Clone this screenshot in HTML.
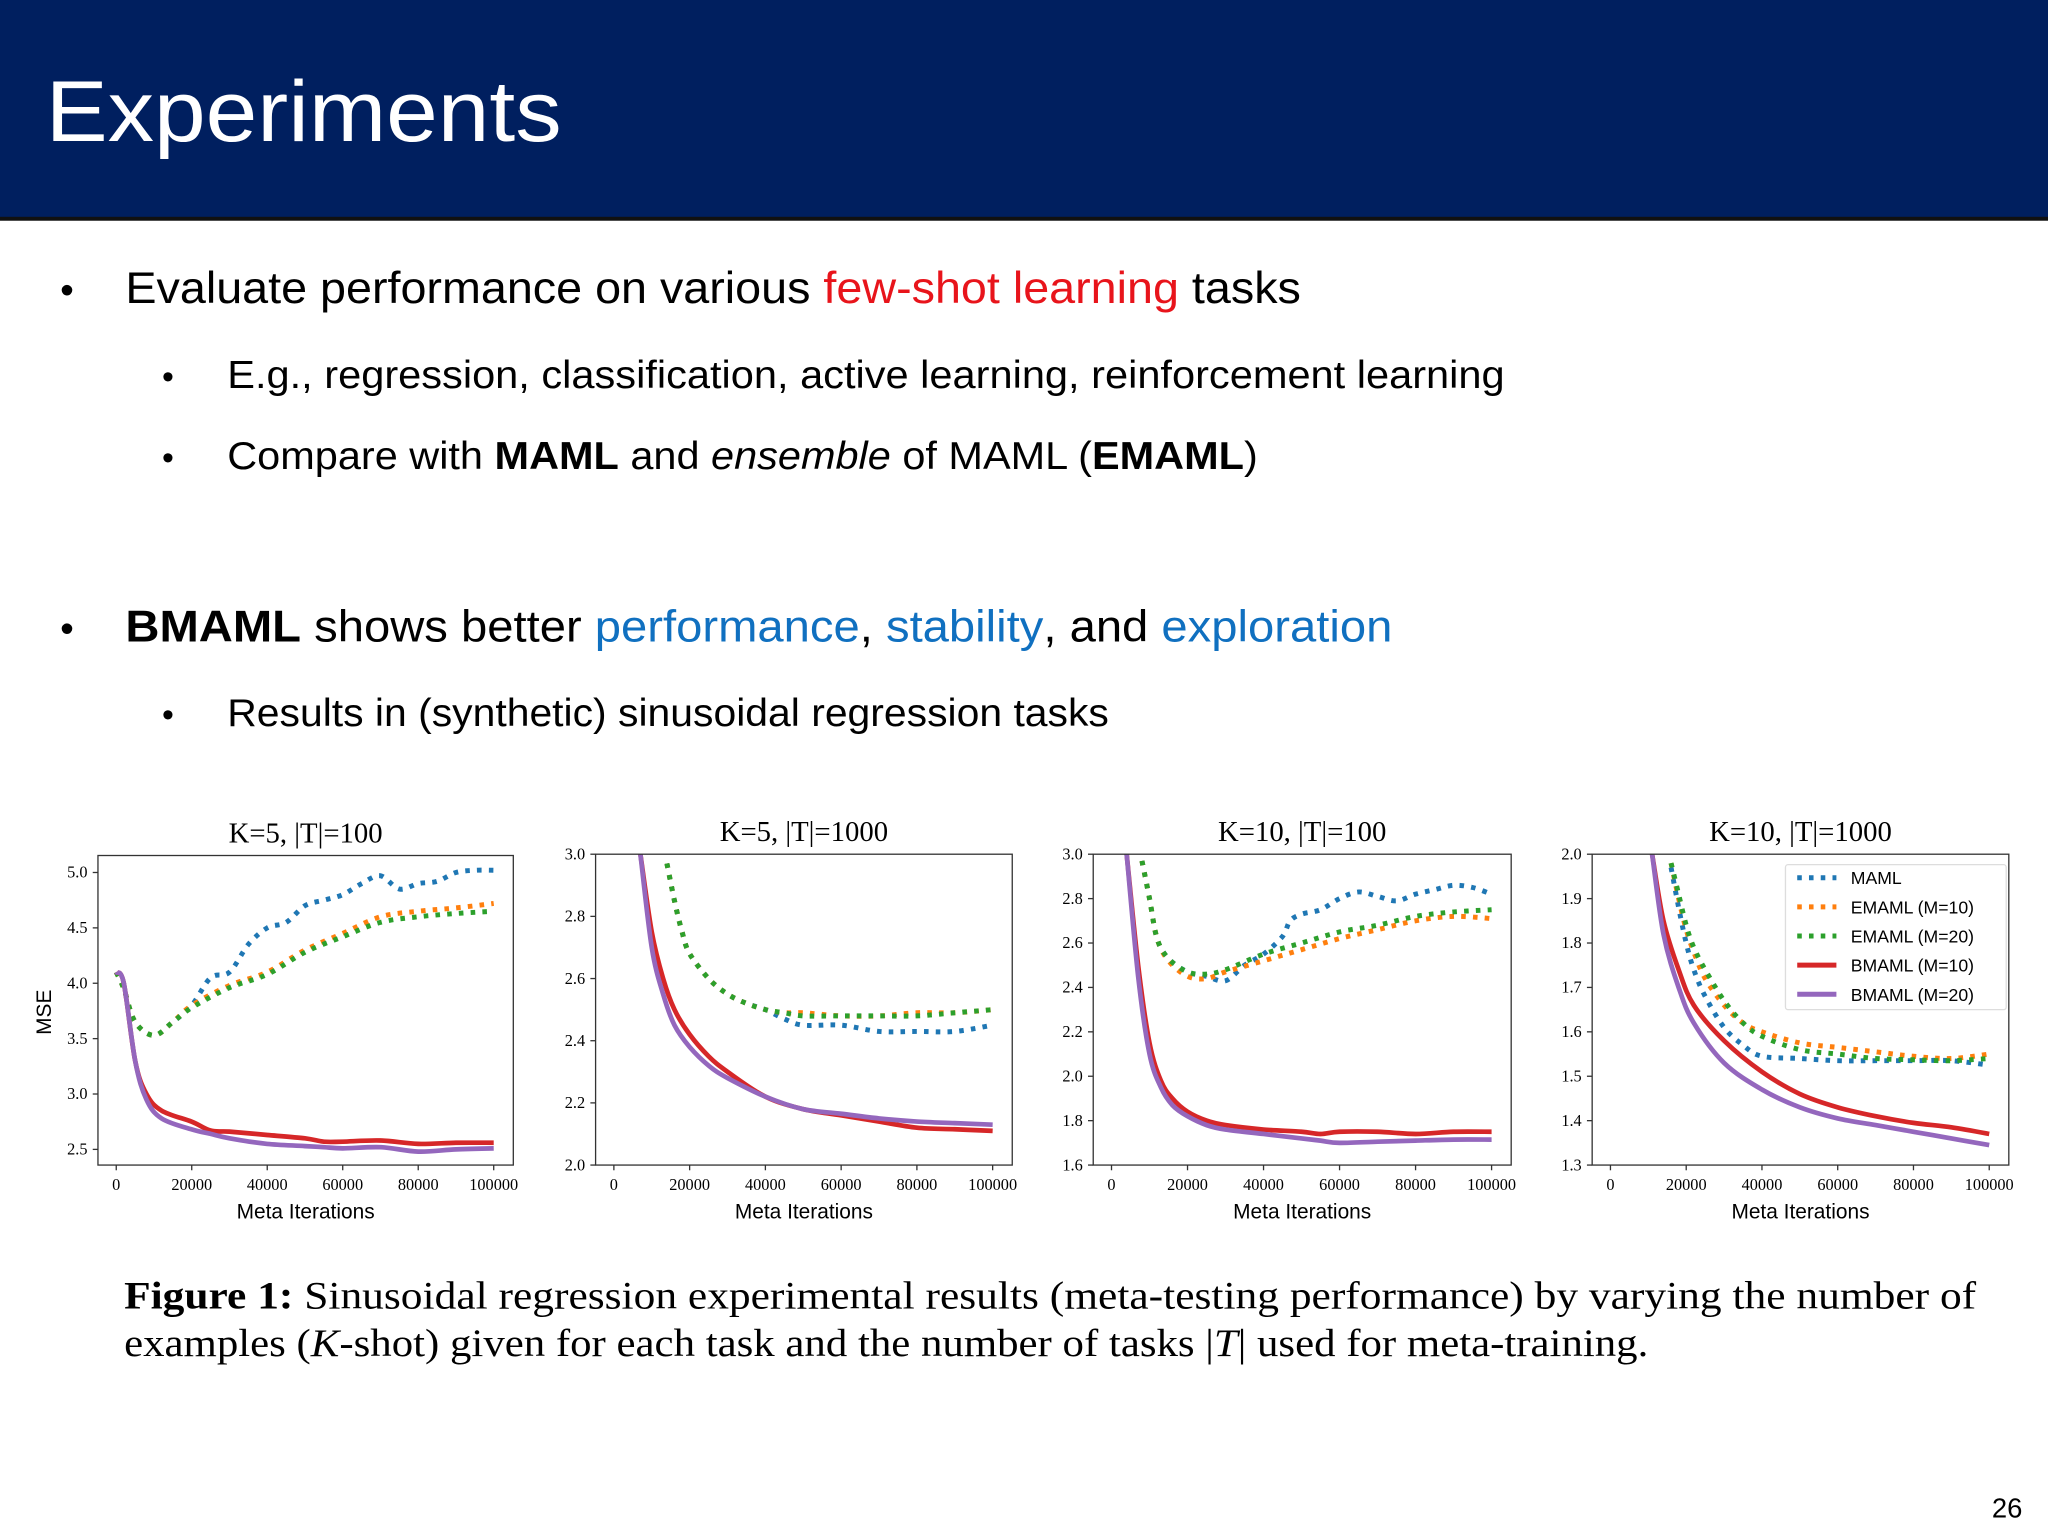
<!DOCTYPE html>
<html><head><meta charset="utf-8"><style>
html,body{margin:0;padding:0;background:#fff;}
svg{display:block;}
</style></head><body>
<svg id="slide" width="2048" height="1536" viewBox="0 0 1568 1176" xmlns="http://www.w3.org/2000/svg">
<rect x="0" y="0" width="1568" height="168" fill="#001f5f"/>
<rect x="0" y="166" width="1568" height="3" fill="#111"/>
<text x="35" y="108" font-family="Liberation Sans, sans-serif" font-size="66" fill="#fff" textLength="395" lengthAdjust="spacingAndGlyphs">Experiments</text>
<g font-family="Liberation Sans, sans-serif" fill="#000">
<text x="46" y="232" font-size="30">•</text>
<text x="96" y="232" font-size="34" textLength="900" lengthAdjust="spacingAndGlyphs">Evaluate performance on various <tspan fill="#e8141b">few-shot learning</tspan> tasks</text>
<text x="124" y="297" font-size="26">•</text>
<text x="174" y="297" font-size="30" textLength="978" lengthAdjust="spacingAndGlyphs">E.g., regression, classification, active learning, reinforcement learning</text>
<text x="124" y="359" font-size="26">•</text>
<text x="174" y="359" font-size="30" textLength="789" lengthAdjust="spacingAndGlyphs">Compare with <tspan font-weight="bold">MAML</tspan> and <tspan font-style="italic">ensemble</tspan> of MAML (<tspan font-weight="bold">EMAML</tspan>)</text>
<text x="46" y="491" font-size="30">•</text>
<text x="96" y="491" font-size="34" textLength="970" lengthAdjust="spacingAndGlyphs"><tspan font-weight="bold">BMAML</tspan> shows better <tspan fill="#1070c0">performance</tspan>, <tspan fill="#1070c0">stability</tspan>, and <tspan fill="#1070c0">exploration</tspan></text>
<text x="124" y="556" font-size="26">•</text>
<text x="174" y="556" font-size="30" textLength="675" lengthAdjust="spacingAndGlyphs">Results in (synthetic) sinusoidal regression tasks</text>
</g>
<g font-family="Liberation Serif, serif" fill="#000">
<text x="95" y="1002" font-size="30" textLength="1418" lengthAdjust="spacingAndGlyphs"><tspan font-weight="bold">Figure 1:</tspan> Sinusoidal regression experimental results (meta-testing performance) by varying the number of</text>
<text x="95" y="1038" font-size="30" textLength="1167" lengthAdjust="spacingAndGlyphs">examples (<tspan font-style="italic">K</tspan>-shot) given for each task and the number of tasks |<tspan font-style="italic">T</tspan>| used for meta-training.</text>
</g>
<text x="1525" y="1162" font-family="Liberation Sans, sans-serif" font-size="21">26</text>
<g id="charts"></g>
</svg>
<script>
// ---- data ----
const titles = ["K=5, |T|=100","K=5, |T|=1000","K=10, |T|=100","K=10, |T|=1000"];
const seriesNames = ["MAML","EMAML (M=10)","EMAML (M=20)","BMAML (M=10)","BMAML (M=20)"];
const xTicks = [0,20000,40000,60000,80000,100000];
const yTicks1 = [2.5,3.0,3.5,4.0,4.5,5.0];
const yTicks2 = [2.0,2.2,2.4,2.6,2.8,3.0];
const yTicks3 = [1.6,1.8,2.0,2.2,2.4,2.6,2.8,3.0];
const yTicks4 = [1.3,1.4,1.5,1.6,1.7,1.8,1.9,2.0];

const p1MamlX=[0,2000,5000,10000,15000,20000,25000,30000,35000,40000,45000,50000,55000,60000,65000,70000,75000,80000,85000,90000,95000,100000];
const p1MamlY=[4.1,3.95,3.65,3.53,3.65,3.8,4.05,4.1,4.35,4.5,4.55,4.7,4.75,4.8,4.9,4.97,4.85,4.9,4.92,5.0,5.02,5.02];
const p1E10X=[0,2000,5000,10000,15000,20000,30000,40000,50000,60000,70000,80000,90000,100000];
const p1E10Y=[4.1,3.95,3.65,3.53,3.65,3.8,3.98,4.1,4.3,4.45,4.6,4.65,4.68,4.72];
const p1E20Y=[4.1,3.95,3.65,3.53,3.65,3.78,3.96,4.08,4.28,4.42,4.55,4.6,4.63,4.65];
const p1BX=[0,2000,5000,8000,12000,20000,25000,30000,40000,50000,55000,60000,70000,80000,90000,100000];
const p1B10Y=[4.1,4.0,3.3,3.0,2.85,2.75,2.67,2.66,2.63,2.6,2.57,2.57,2.58,2.55,2.56,2.56];
const p1B20Y=[4.1,4.0,3.3,2.95,2.78,2.68,2.64,2.6,2.55,2.53,2.52,2.51,2.52,2.48,2.5,2.51];

const p2EX=[14000,16000,18000,20000,25000,30000,35000,40000,45000,50000,60000,70000,80000,90000,100000];
const p2MamlY=[2.97,2.85,2.75,2.68,2.6,2.55,2.52,2.5,2.47,2.45,2.45,2.43,2.43,2.43,2.45];
const p2E10Y=[2.97,2.85,2.75,2.68,2.6,2.55,2.52,2.5,2.49,2.49,2.48,2.48,2.49,2.49,2.5];
const p2E20Y=[2.97,2.85,2.75,2.68,2.6,2.55,2.52,2.5,2.49,2.48,2.48,2.48,2.48,2.49,2.5];
const p2BX=[7000,10000,13000,16000,20000,25000,30000,40000,50000,60000,70000,80000,90000,100000];
const p2B10Y=[3.0,2.75,2.6,2.5,2.42,2.35,2.3,2.22,2.18,2.16,2.14,2.12,2.115,2.11];
const p2B20Y=[3.0,2.7,2.55,2.45,2.38,2.32,2.28,2.22,2.18,2.165,2.15,2.14,2.135,2.13];

const p3MamlX=[8000,10000,12000,15000,20000,25000,30000,35000,40000,45000,47000,50000,55000,60000,65000,70000,75000,80000,85000,90000,95000,100000];
const p3MamlY=[2.97,2.8,2.62,2.53,2.47,2.45,2.43,2.5,2.55,2.63,2.7,2.73,2.75,2.8,2.83,2.81,2.79,2.82,2.84,2.86,2.85,2.82];
const p3EX=[8000,10000,12000,15000,20000,25000,30000,40000,50000,60000,70000,80000,90000,100000];
const p3E10Y=[2.97,2.8,2.62,2.52,2.45,2.44,2.47,2.52,2.57,2.62,2.66,2.7,2.72,2.71];
const p3E20Y=[2.97,2.8,2.62,2.53,2.47,2.46,2.48,2.55,2.6,2.65,2.68,2.72,2.74,2.75];
const p3BX=[4000,7000,10000,13000,16000,20000,25000,30000,40000,50000,55000,60000,70000,80000,90000,100000];
const p3B10Y=[3.0,2.5,2.15,1.98,1.9,1.84,1.8,1.78,1.76,1.75,1.74,1.75,1.75,1.74,1.75,1.75];
const p3B20Y=[3.0,2.45,2.1,1.95,1.87,1.82,1.78,1.76,1.74,1.72,1.71,1.70,1.705,1.71,1.715,1.715];

const p4EX=[16000,18000,20000,22000,25000,30000,35000,40000,50000,60000,70000,80000,90000,100000];
const p4MamlY=[1.97,1.88,1.8,1.74,1.68,1.61,1.57,1.545,1.54,1.535,1.535,1.535,1.535,1.525];
const p4E10Y=[1.98,1.9,1.83,1.78,1.72,1.66,1.62,1.6,1.575,1.565,1.555,1.545,1.54,1.55];
const p4E20Y=[1.98,1.91,1.84,1.79,1.74,1.67,1.62,1.59,1.56,1.55,1.54,1.537,1.535,1.54];
const p4BX=[11000,14000,18000,22000,30000,40000,50000,60000,70000,80000,90000,100000];
const p4B10Y=[2.0,1.85,1.74,1.66,1.58,1.51,1.46,1.43,1.41,1.395,1.385,1.37];
const p4B20Y=[2.0,1.82,1.7,1.62,1.53,1.47,1.43,1.405,1.39,1.375,1.36,1.345];

const colors=["#1f77b4","#ff7f0e","#2ca02c","#d62728","#9467bd"];

const panels=[
 {box:[75,655,393,892],yr:[2.5,5.0],yp:[880,668],yTicks:yTicks1,series:[[p1MamlX,p1MamlY],[p1E10X,p1E10Y],[p1E10X,p1E20Y],[p1BX,p1B10Y],[p1BX,p1B20Y]]},
 {box:[456,654,775,892],yr:[2.0,3.0],yp:[892,654],yTicks:yTicks2,series:[[p2EX,p2MamlY],[p2EX,p2E10Y],[p2EX,p2E20Y],[p2BX,p2B10Y],[p2BX,p2B20Y]]},
 {box:[837,654,1157,892],yr:[1.6,3.0],yp:[892,654],yTicks:yTicks3,series:[[p3MamlX,p3MamlY],[p3EX,p3E10Y],[p3EX,p3E20Y],[p3BX,p3B10Y],[p3BX,p3B20Y]]},
 {box:[1219,654,1538,892],yr:[1.3,2.0],yp:[892,654],yTicks:yTicks4,series:[[p4EX,p4MamlY],[p4EX,p4E10Y],[p4EX,p4E20Y],[p4BX,p4B10Y],[p4BX,p4B20Y]]}
];
const NS="http://www.w3.org/2000/svg";
const root=document.getElementById('charts');
function mk(tag,attrs,parent){const e=document.createElementNS(NS,tag);for(const k in attrs)e.setAttribute(k,attrs[k]);(parent||root).appendChild(e);return e;}
function smooth(pts){
 let d='M'+pts[0][0].toFixed(1)+' '+pts[0][1].toFixed(1);
 for(let i=0;i<pts.length-1;i++){
  const p0=pts[i-1]||pts[i],p1=pts[i],p2=pts[i+1],p3=pts[i+2]||p2;
  const c1=[p1[0]+(p2[0]-p0[0])/6,p1[1]+(p2[1]-p0[1])/6];
  const c2=[p2[0]-(p3[0]-p1[0])/6,p2[1]-(p3[1]-p1[1])/6];
  d+=' C'+c1[0].toFixed(1)+' '+c1[1].toFixed(1)+' '+c2[0].toFixed(1)+' '+c2[1].toFixed(1)+' '+p2[0].toFixed(1)+' '+p2[1].toFixed(1);
 }
 return d;
}
const defs=mk('defs',{});
panels.forEach((p,pi)=>{
 const [x0,y0,x1,y1]=p.box;
 const xs=v=>x0+14+(v/100000)*(x1-x0-29);
 const ys=v=>p.yp[0]+(v-p.yr[0])/(p.yr[1]-p.yr[0])*(p.yp[1]-p.yp[0]);
 const g=mk('g',{});
 
 
 const cp=mk('clipPath',{id:'clip'+pi},defs);
 mk('rect',{x:x0,y:y0,width:x1-x0,height:y1-y0},cp);
 const t=mk('text',{x:(x0+x1)/2,y:y0-10,'text-anchor':'middle','font-family':'Liberation Serif, serif','font-size':'22'},g);
 t.textContent=titles[pi];
 
 
 const series=mk('g',{'clip-path':'url(#clip'+pi+')'},g);
 p.series.forEach((s,si)=>{
  const pts=s[0].map((xv,i)=>[xs(xv),ys(s[1][i])]);
  const dotted=si<3;
  const path=mk('path',{d:smooth(pts),fill:'none',stroke:colors[si],'stroke-width':dotted?3.8:3.6,'stroke-dasharray':dotted?'3.5 5.5':'none','stroke-linejoin':'round'},series);
  
  
 });
 const frame=mk('rect',{x:x0,y:y0,width:x1-x0,height:y1-y0,fill:'none',stroke:'#333','stroke-width':1},g);
 
 
 xTicks.forEach(v=>{
  mk('line',{x1:xs(v),x2:xs(v),y1:y1,y2:y1+4,stroke:'#333'},g);
  const tl=mk('text',{x:xs(v),y:y1+19,'text-anchor':'middle','font-family':'Liberation Serif, serif','font-size':'12.5'},g);
  tl.textContent=v;
  
  
 });
 p.yTicks.forEach(v=>{
  mk('line',{x1:x0-4,x2:x0,y1:ys(v),y2:ys(v),stroke:'#333'},g);
  const tl=mk('text',{x:x0-8,y:ys(v)+4,'text-anchor':'end','font-family':'Liberation Serif, serif','font-size':'12.5'},g);
  tl.textContent=v.toFixed(1);
  
  
 });
 const xl=mk('text',{x:(x0+x1)/2,y:y1+41,'text-anchor':'middle','font-family':'Liberation Sans, sans-serif','font-size':'16'},g);
 xl.textContent='Meta Iterations';
 
 
 if(pi===0){
  const yl=mk('text',{x:0,y:0,transform:'translate(39,775) rotate(-90)','text-anchor':'middle','font-family':'Liberation Sans, sans-serif','font-size':'16'},g);
  yl.textContent='MSE';
  
  
 }
 if(pi===3){
  const lg=mk('g',{},g);
  
  
  mk('rect',{x:1367,y:662,width:169,height:111,fill:'#fff',stroke:'#ddd','stroke-width':1,rx:2},lg);
  seriesNames.forEach((n,si)=>{
   const yy=672+si*22.3;
   const dotted=si<3;
   mk('line',{x1:1376,x2:1406,y1:yy,y2:yy,stroke:colors[si],'stroke-width':3.8,'stroke-dasharray':dotted?'3.5 5.5':'none'},lg);
   const lt=mk('text',{x:1417,y:yy+5,'font-family':'Liberation Sans, sans-serif','font-size':'13.5'},lg);
   lt.textContent=n;
   
   
  });
 }
});
</script>
</body></html>
